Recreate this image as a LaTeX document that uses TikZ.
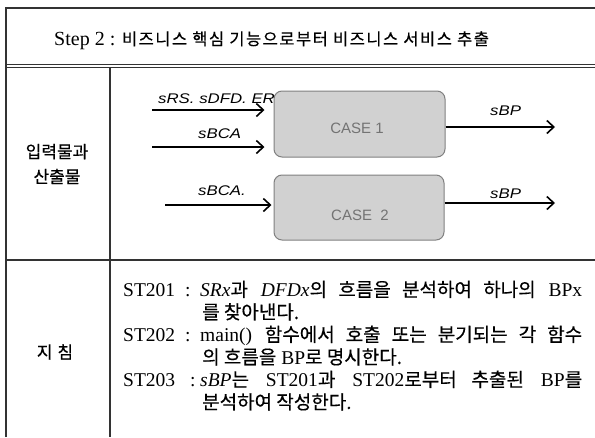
\documentclass[tikz,border=0pt]{standalone}
\usepackage{fontspec}
\setmainfont{Liberation Serif}
\newfontfamily\krA[FakeBold=0.4]{Noto Sans CJK KR}
\newfontfamily\krH[FakeBold=0.4,LetterSpace=9]{Noto Sans CJK KR}
\newfontfamily\lsi[FakeStretch=1.2]{Liberation Sans Italic}
\newfontfamily\lss{Liberation Sans}
\usetikzlibrary{arrows.meta}
\newcommand\kg[1]{{\krA\fontsize{19}{19}\selectfont #1}}
\newcommand\kh[1]{{\krH\fontsize{16.5}{16.5}\selectfont #1}}
\tikzset{
  tline/.style={line width=1.2pt, draw=black!80},
  arr/.style={line width=1.6pt, -{Straight Barb[length=7pt,width=13pt]}},
  casebox/.style={draw=black!50, fill=black!18, rounded corners=8pt, line width=1pt},
  casetxt/.style={text=black!55, font=\lss\fontsize{15}{15}\selectfont, inner sep=0pt},
  lab/.style={font=\lsi\fontsize{14}{14}\selectfont, inner sep=0pt, anchor=base west},
  gl/.style={anchor=base west, inner sep=0pt, font=\fontsize{19.5}{19.5}\selectfont},
  side/.style={font=\krA\fontsize{17}{25}\selectfont, align=center, inner sep=0pt}
}
\begin{document}
\begin{tikzpicture}[x=1pt,y=-1pt]
\useasboundingbox (0,0) rectangle (595,437);
\fill[white] (0,0) rectangle (595,437);
% table
\draw[tline] (6,437) -- (6,8) -- (595,8);
\draw[tline] (6,64.5) -- (595,64.5);
\draw[tline] (6,67.5) -- (595,67.5);
\draw[tline] (110,67.5) -- (110,437);
\draw[tline] (6,260) -- (595,260);
% header
\node[gl, font=\fontsize{20}{20}\selectfont] (head) at (54,45) {Step 2 : \kh{비즈니스 핵심 기능으로부터 비즈니스 서비스 추출}};
% side labels
\node[side] (io) at (57,164) {입력물과\\산출물};
\node[side] (gd) at (55,352) {지\hspace{5pt}침};
% boxes
\node[casebox, minimum width=171pt, minimum height=66pt] (c1) at (359.5,124) {};
\node[casetxt] (c1t) at (357,128) {CASE 1};
\node[casebox, minimum width=170pt, minimum height=65pt] (c2) at (359,207.5) {};
\node[casetxt] (c2t) at (360,215) {CASE\ \ 2};
% arrows
\coordinate (a1s) at (152,110);
\coordinate (a2s) at (152,147);
\coordinate (a3s) at (165,205);
\coordinate (o1e) at (555,127);
\coordinate (o2e) at (555,203);
\draw[arr, shorten >=9pt] (a1s) -- (c1.west |- a1s);
\draw[arr, shorten >=9pt] (a2s) -- (c1.west |- a2s);
\draw[arr, shorten >=2pt] (a3s) -- (c2.west |- a3s);
\draw[arr] (c1.east |- o1e) -- (o1e);
\draw[arr] (c2.east |- o2e) -- (o2e);
\node[lab] (l1) at (158,103) {sRS. sDFD. ER};
\node[lab] (l2) at (198,138) {sBCA};
\node[lab] (l3) at (198,195) {sBCA.};
\node[lab] (l4) at (490,115) {sBP};
\node[lab] (l5) at (490,198) {sBP};
% guidelines
\node[gl] (s1) at (123,296.5) {ST201};
\node[gl] (k1) at (185,296.5) {:};
\node[gl] (t1) at (200,296.5) {\makebox[382pt][s]{\textit{SRx}\kg{과} \textit{DFDx}\kg{의 흐름을 분석하여 하나의} BPx}};
\node[gl] (t2) at (202,319) {\kg{를 찾아낸다.}};
\node[gl] (s2) at (123,341.5) {ST202};
\node[gl] (k2) at (185,341.5) {:};
\node[gl] (t3) at (200,341.5) {\makebox[382pt][s]{main() \kg{함수에서 호출 또는 분기되는 각 함수}}};
\node[gl] (t4) at (202,364) {\kg{의 흐름을} BP\kg{로 명시한다.}};
\node[gl] (s3) at (123,386.5) {ST203};
\node[gl] (k3) at (190,386.5) {:};
\node[gl] (t5) at (200,386.5) {\makebox[382pt][s]{\textit{sBP}\kg{는} ST201\kg{과} ST202\kg{로부터 추출된} BP\kg{를}}};
\node[gl] (t6) at (202,409) {\kg{분석하여 작성한다.}};
\end{tikzpicture}
\end{document}
